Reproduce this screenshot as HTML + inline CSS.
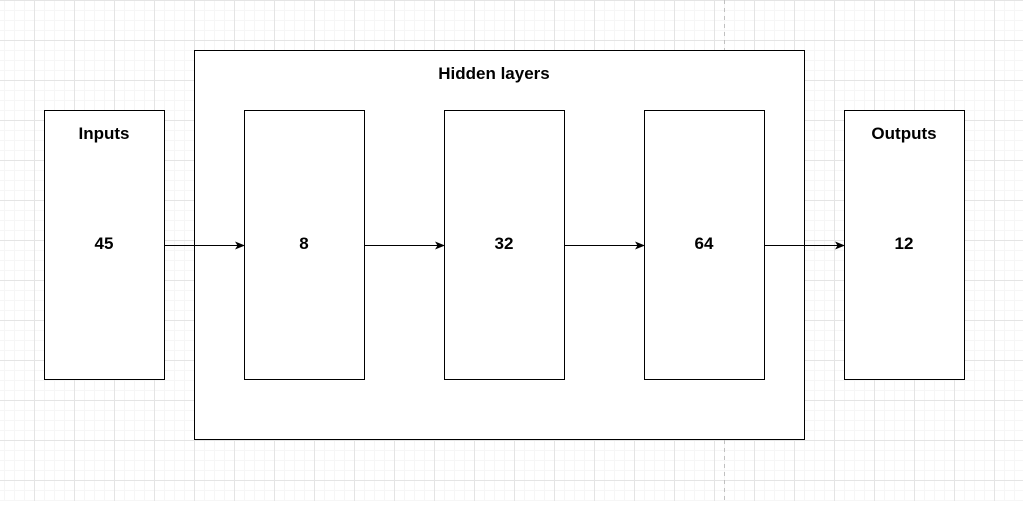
<!DOCTYPE html>
<html><head><meta charset="utf-8"><style>
html,body{margin:0;padding:0}
body{width:1023px;height:501px;overflow:hidden;background:#fff;font-family:"Liberation Sans",sans-serif}
</style></head><body>
<svg width="1023" height="501" xmlns="http://www.w3.org/2000/svg">
<defs>
<pattern id="minor" width="10" height="10" patternUnits="userSpaceOnUse" x="4" y="0">
<path d="M0.5 0V10M0 0.5H10" stroke="#f6f6f6" stroke-width="1" fill="none"/></pattern>
<pattern id="major" width="40" height="40" patternUnits="userSpaceOnUse" x="34" y="0">
<path d="M0.5 0V40M0 0.5H40" stroke="#e4e4e4" stroke-width="1" fill="none"/></pattern>
<marker id="ah" markerWidth="10" markerHeight="8" refX="9" refY="4" orient="auto" markerUnits="userSpaceOnUse">
<path d="M0 0L10 4L0 8L2.5 4Z" fill="#000"/></marker>
</defs>
<rect width="1023" height="501" fill="url(#minor)"/>
<rect width="1023" height="501" fill="url(#major)"/>
<line x1="724.5" y1="0" x2="724.5" y2="501" stroke="#c0c0c0" stroke-dasharray="4 4"/>
<g stroke="#000" stroke-width="1" fill="#fff">
<rect x="194.5" y="50.5" width="610" height="389"/>
<rect x="44.5" y="110.5" width="120" height="269"/>
<rect x="244.5" y="110.5" width="120" height="269"/>
<rect x="444.5" y="110.5" width="120" height="269"/>
<rect x="644.5" y="110.5" width="120" height="269"/>
<rect x="844.5" y="110.5" width="120" height="269"/>
</g>
<g stroke="#000" stroke-width="1" marker-end="url(#ah)">
<line x1="164.5" y1="245.5" x2="244" y2="245.5"/>
<line x1="364.5" y1="245.5" x2="444" y2="245.5"/>
<line x1="564.5" y1="245.5" x2="644" y2="245.5"/>
<line x1="764.5" y1="245.5" x2="844" y2="245.5"/>
</g>
<g font-family="Liberation Sans, sans-serif" font-size="17" font-weight="bold" text-anchor="middle" fill="#000">
<text x="494" y="79">Hidden layers</text>
<text x="104" y="139">Inputs</text>
<text x="904" y="139">Outputs</text>
<text x="104" y="249">45</text>
<text x="304" y="249">8</text>
<text x="504" y="249">32</text>
<text x="704" y="249">64</text>
<text x="904" y="249">12</text>
</g>
</svg>
</body></html>
